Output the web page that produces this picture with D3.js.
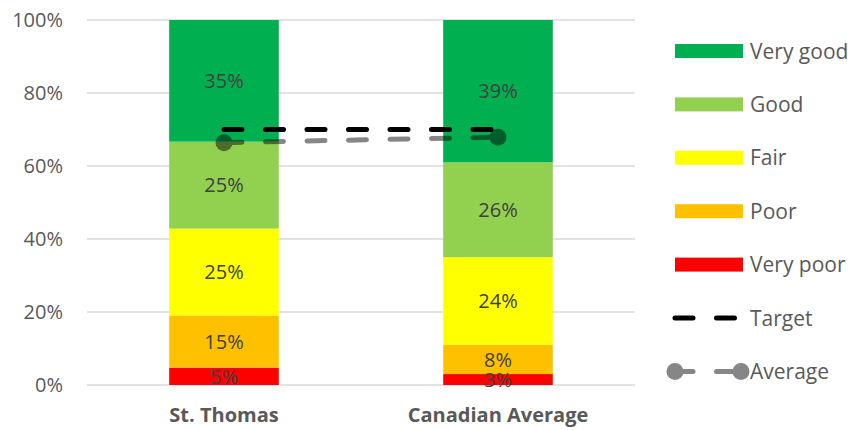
<!DOCTYPE html>
<html>
<head>
<meta charset="utf-8">
<script src="https://cdn.jsdelivr.net/npm/d3@7"></script>
<style>
  body { margin: 0; background: #fff; }
  text { font-family: "Open Sans", sans-serif; }
</style>
</head>
<body>
<div id="chart"></div>
<script>
// data
var categories = ["St. Thomas", "Canadian Average"];
var levels = ["Very poor", "Poor", "Fair", "Good", "Very good"];
var stThomas = [5, 15, 25, 25, 35];
var canadian = [3, 8, 24, 26, 39];
var target = [70, 70];
var average = [66.4, 67.9];
var yTicks = [0, 20, 40, 60, 80, 100];

var colors = {
    "Very poor": "#FF0000",
    "Poor": "#FFC000",
    "Fair": "#FFFF00",
    "Good": "#92D050",
    "Very good": "#00B050"
};

var width = 852, height = 430;
var margin = {top: 20, right: 217, bottom: 45, left: 87};

var svg = d3.select("#chart")
    .append("svg")
    .attr("width", width)
    .attr("height", height);

var rows = categories.map(function(c, i) {
    var src = i === 0 ? stThomas : canadian;
    var r = {cat: c};
    levels.forEach(function(l, j) { r[l] = src[j]; });
    return r;
});

// 100% stacked columns
var stack = d3.stack()
    .keys(levels)
    .offset(d3.stackOffsetExpand);
var series = stack(rows);

var x = d3.scaleBand()
    .domain(categories)
    .range([margin.left, width - margin.right])
    .paddingInner(0.6)
    .paddingOuter(0.3);

var y = d3.scaleLinear()
    .domain([0, 1])
    .range([height - margin.bottom, margin.top]);

// gridlines
svg.append("g")
    .selectAll("line")
    .data(yTicks)
    .enter()
    .append("line")
    .attr("x1", margin.left)
    .attr("x2", width - margin.right)
    .attr("y1", function(d) { return y(d / 100); })
    .attr("y2", function(d) { return y(d / 100); })
    .attr("stroke", "#d9d9d9")
    .attr("stroke-width", 1.5);

// y axis labels
var yAxis = d3.axisLeft(y)
    .tickValues(yTicks.map(function(d) { return d / 100; }))
    .tickFormat(d3.format(".0%"))
    .tickSize(0)
    .tickPadding(24);
svg.append("g")
    .attr("transform", "translate(" + margin.left + ",0)")
    .call(yAxis)
    .call(function(g) { g.select(".domain").remove(); })
    .selectAll("text")
    .attr("font-family", "Open Sans, sans-serif")
    .attr("font-size", 20)
    .attr("fill", "#595959");

// category labels
var xAxis = d3.axisBottom(x).tickSize(0).tickPadding(23);
svg.append("g")
    .attr("transform", "translate(0," + (height - margin.bottom) + ")")
    .call(xAxis)
    .call(function(g) { g.select(".domain").remove(); })
    .selectAll("text")
    .attr("font-family", "Open Sans, sans-serif")
    .attr("font-size", 20)
    .attr("font-weight", "bold")
    .attr("fill", "#595959");

// stacked bars
var layer = svg.selectAll(".layer")
    .data(series)
    .enter()
    .append("g")
    .attr("class", "layer")
    .attr("fill", function(d) { return colors[d.key]; });

layer.selectAll("rect")
    .data(function(d) { return d; })
    .enter()
    .append("rect")
    .attr("x", function(d) { return x(d.data.cat); })
    .attr("width", x.bandwidth())
    .attr("y", function(d) { return y(d[1]); })
    .attr("height", function(d) { return y(d[0]) - y(d[1]); });

// data labels
series.forEach(function(s) {
    svg.append("g")
        .selectAll("text")
        .data(s)
        .enter()
        .append("text")
        .attr("x", function(d) { return x(d.data.cat) + x.bandwidth() / 2; })
        .attr("y", function(d) { return (y(d[0]) + y(d[1])) / 2; })
        .attr("dy", "0.36em")
        .attr("text-anchor", "middle")
        .attr("font-size", 20)
        .attr("fill", "#404040")
        .text(function(d) { return d.data[s.key] + "%"; });
});

var cx = function(c) { return x(c) + x.bandwidth() / 2; };

// target line
var line = d3.line()
    .x(function(d) { return cx(d.cat); })
    .y(function(d) { return y(d.v / 100); });

svg.append("path")
    .datum(categories.map(function(c, i) { return {cat: c, v: target[i]}; }))
    .attr("d", line)
    .attr("fill", "none")
    .attr("stroke", "#000")
    .attr("stroke-width", 5)
    .attr("stroke-linecap", "round")
    .attr("stroke-dasharray", "18,23.5");

// average line (semi transparent)
var avgData = categories.map(function(c, i) { return {cat: c, v: average[i]}; });
var avg = svg.append("g").attr("opacity", 0.47);
avg.append("path")
    .datum(avgData)
    .attr("d", line)
    .attr("fill", "none")
    .attr("stroke", "#000")
    .attr("stroke-width", 5)
    .attr("stroke-linecap", "round")
    .attr("stroke-dasharray", "18,23.5");
avg.selectAll("circle")
    .data(avgData)
    .enter()
    .append("circle")
    .attr("cx", function(d) { return cx(d.cat); })
    .attr("cy", function(d) { return y(d.v / 100); })
    .attr("r", 8.5)
    .attr("fill", "#000");

// legend
var legendItems = levels.slice().reverse().concat(["Target", "Average"]);
var legend = svg.append("g")
    .selectAll("g")
    .data(legendItems)
    .enter()
    .append("g")
    .attr("transform", function(d, i) { return "translate(675," + (51 + i * 53.4) + ")"; });

legend.each(function(d) {
    var g = d3.select(this);
    if (colors[d]) {
        g.append("rect")
            .attr("x", 0).attr("y", -7)
            .attr("width", 68).attr("height", 14)
            .attr("fill", colors[d]);
    } else if (d === "Target") {
        g.append("line")
            .attr("x1", 0).attr("x2", 64)
            .attr("stroke", "#000").attr("stroke-width", 5)
            .attr("stroke-linecap", "round")
            .attr("stroke-dasharray", "18,23.5");
    } else {
        var a = g.append("g").attr("opacity", 0.47);
        a.append("line")
            .attr("x1", 0).attr("x2", 66)
            .attr("stroke", "#000").attr("stroke-width", 5)
            .attr("stroke-linecap", "round")
            .attr("stroke-dasharray", "18,23.5");
        a.append("circle").attr("cx", 0).attr("r", 8.5).attr("fill", "#000");
        a.append("circle").attr("cx", 66).attr("r", 8.5).attr("fill", "#000");
    }
    g.append("text")
        .attr("x", 75)
        .attr("dy", "0.36em")
        .attr("font-size", 21)
        .attr("fill", "#595959")
        .text(d);
});
</script>
</body>
</html>
